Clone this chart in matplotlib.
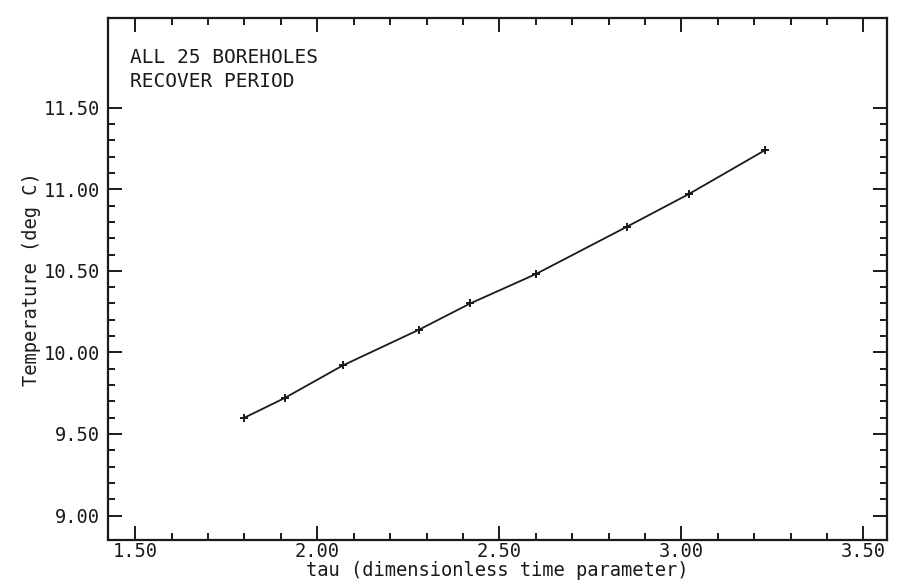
import numpy as np
import matplotlib
matplotlib.use("Agg")
import matplotlib.pyplot as plt
from matplotlib.ticker import FixedLocator, FormatStrFormatter

# Recovery-period observations: dimensionless time vs. temperature
tau = [1.80, 1.91, 2.07, 2.28, 2.42, 2.60, 2.85, 3.02, 3.23]
temperature = [9.60, 9.72, 9.92, 10.14, 10.30, 10.48, 10.77, 10.97, 11.24]

x_major = [1.50, 2.00, 2.50, 3.00, 3.50]
y_major = [9.00, 9.50, 10.00, 10.50, 11.00, 11.50]

FONT = "DejaVu Sans Mono"
plt.rcParams["font.family"] = FONT

fig = plt.figure(figsize=(8.99, 5.84), dpi=100)
ax = fig.add_axes([0.1201, 0.0753, 0.8666, 0.8939])

ax.plot(tau, temperature, color="#1a1a1a", lw=1.3, marker="+", ms=6, mew=1.4)

ax.set_xlim(1.425, 3.565)
ax.set_ylim(8.85, 12.05)

ax.xaxis.set_major_locator(FixedLocator(x_major))
ax.yaxis.set_major_locator(FixedLocator(y_major))
ax.xaxis.set_minor_locator(FixedLocator(np.round(np.arange(1.5, 3.501, 0.1), 2)))
ax.yaxis.set_minor_locator(FixedLocator(np.round(np.arange(9.0, 11.501, 0.1), 2)))
ax.xaxis.set_major_formatter(FormatStrFormatter("%.2f"))
ax.yaxis.set_major_formatter(FormatStrFormatter("%.2f"))

ax.tick_params(which="both", direction="in", top=True, right=True,
               colors="#1a1a1a", labelsize=13.5, width=1.4)
ax.tick_params(which="major", length=10)
ax.tick_params(which="minor", length=5)
ax.tick_params(axis="x", pad=1.5)
ax.tick_params(axis="y", pad=6)

for sp in ax.spines.values():
    sp.set_linewidth(1.6)
    sp.set_color("#1a1a1a")

ax.set_xlabel("tau (dimensionless time parameter)", fontsize=13.5,
              color="#1a1a1a", labelpad=0)
ax.set_ylabel("Temperature (deg C)", fontsize=13.5, color="#1a1a1a", labelpad=2)

ax.text(0.028, 0.942, "ALL 25 BOREHOLES\nRECOVER PERIOD", transform=ax.transAxes,
        ha="left", va="top", fontsize=14, color="#1a1a1a", linespacing=1.3)

fig.savefig("out.png", dpi=100, facecolor="white")
